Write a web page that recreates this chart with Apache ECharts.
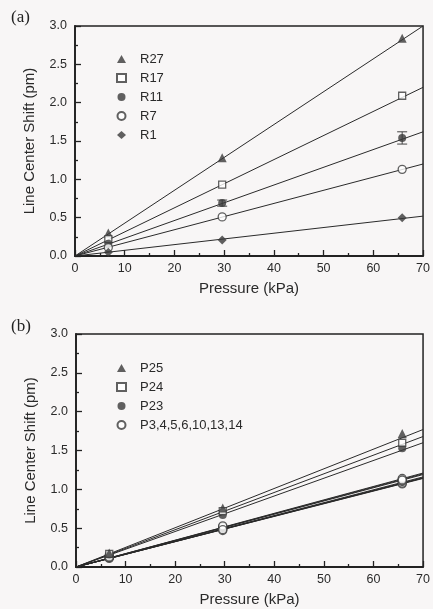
<!DOCTYPE html>
<html>
<head>
<meta charset="utf-8">
<script src="https://cdn.jsdelivr.net/npm/echarts@6/dist/echarts.min.js"></script>
<style>
  html, body { margin: 0; padding: 0; background: #f8f6f6; }
  #main { width: 433px; height: 609px; }
</style>
</head>
<body>
<div id="main"></div>
<script>
// pressures where shifts were measured (kPa)
var pressure = [6.7, 29.6, 65.8];
var fitX = [0, 70];

// panel (a)
var namesA = ['R27', 'R17', 'R11', 'R7', 'R1'];
var r27 = [0.30, 1.28, 2.84];
var r17 = [0.22, 0.93, 2.09];
var r11 = [0.16, 0.69, 1.54];
var r7 = [0.11, 0.51, 1.13];
var r1 = [0.05, 0.21, 0.50];
var r11Err = [0, 0.04, 0.08];
var fitEndA = [3.0, 2.20, 1.62, 1.20, 0.52]; // fit line value at 70 kPa

// panel (b)
var namesB = ['P25', 'P24', 'P23', 'P3,4,5,6,10,13,14'];
var p25 = [0.18, 0.76, 1.72];
var p24 = [0.17, 0.72, 1.60];
var p23 = [0.16, 0.67, 1.53];
var p3group = [
  [0.11, 0.47, 1.07],
  [0.12, 0.49, 1.08],
  [0.13, 0.50, 1.10],
  [0.14, 0.51, 1.11],
  [0.12, 0.52, 1.13],
  [0.15, 0.53, 1.14],
  [0.13, 0.48, 1.12]
];
var fitEndB = [1.77, 1.68, 1.60];
var fitEndP3 = [1.21, 1.20, 1.19, 1.16, 1.15, 1.145, 1.14];

var yTicks = ['0.0', '0.5', '1.0', '1.5', '2.0', '2.5', '3.0'];

var ink = '#3a3a3a';
var sym = {
  tri: { symbol: 'triangle', size: 9, style: { color: ink } },
  sq: { symbol: 'rect', size: 7, style: { color: '#fff', borderColor: ink, borderWidth: 1.3 } },
  dot: { symbol: 'circle', size: 8, style: { color: ink } },
  ring: { symbol: 'circle', size: 8, style: { color: '#fff', borderColor: ink, borderWidth: 1.3 } },
  dia: { symbol: 'diamond', size: 9, style: { color: ink } }
};

function pts(vals) {
  return pressure.map(function (p, i) { return [p, vals[i]]; });
}
function fit(end) {
  return [[fitX[0], 0], [fitX[1], end]];
}
function lineSeries(idx, end) {
  return {
    type: 'line', xAxisIndex: idx, yAxisIndex: idx, data: fit(end),
    symbol: 'none', silent: true, z: 1,
    lineStyle: { color: '#2a2a2a', width: 1 }
  };
}
function scatter(idx, name, vals, s) {
  return {
    type: 'scatter', name: name, xAxisIndex: idx, yAxisIndex: idx,
    data: pts(vals), symbol: s.symbol, symbolSize: s.size, itemStyle: s.style, z: 3
  };
}

var font = 'Liberation Sans';

function xAxisCfg(idx) {
  return {
    type: 'value', gridIndex: idx, min: 0, max: 70, interval: 10,
    name: 'Pressure (kPa)', nameLocation: 'middle', nameGap: 25,
    nameTextStyle: { fontFamily: font, fontSize: 15, color: '#2a2a2a' },
    axisLine: { lineStyle: { color: '#222', width: 1.8 } },
    axisTick: { inside: true, length: 6, lineStyle: { color: '#222', width: 1.3 } },
    minorTick: { show: true, splitNumber: 2, length: 3, lineStyle: { color: '#222', width: 1.3 } },
    splitLine: { show: false },
    axisLabel: { margin: 6, fontFamily: font, fontSize: 12.5, color: '#2a2a2a' }
  };
}
function yAxisCfg(idx) {
  return {
    type: 'value', gridIndex: idx, min: 0, max: 3, interval: 0.5,
    name: 'Line Center Shift (pm)', nameLocation: 'middle', nameGap: 38,
    nameTextStyle: { fontFamily: font, fontSize: 15, color: '#2a2a2a' },
    axisLine: { show: true, lineStyle: { color: '#222', width: 1.8 } },
    axisTick: { inside: true, length: 6, lineStyle: { color: '#222', width: 1.3 } },
    minorTick: { show: true, splitNumber: 2, length: 3, lineStyle: { color: '#222', width: 1.3 } },
    splitLine: { show: false },
    axisLabel: {
      margin: 8, fontFamily: font, fontSize: 12.5, color: '#2a2a2a',
      formatter: function (v) { return yTicks[Math.round(v * 2)]; }
    }
  };
}

function legendCfg(names, top) {
  return {
    orient: 'vertical', left: 111, top: top, data: names,
    itemWidth: 9, itemHeight: 8, itemGap: 5,
    textStyle: { fontFamily: font, fontSize: 13, color: '#2a2a2a', lineHeight: 14, padding: [0, 0, 0, 9] },
    selectedMode: false
  };
}

var errorBars = {
  type: 'custom', xAxisIndex: 0, yAxisIndex: 0, silent: true, z: 2,
  data: pressure.map(function (p, i) { return [p, r11[i], r11Err[i]]; }),
  renderItem: function (params, api) {
    var x = api.value(0), y = api.value(1), e = api.value(2);
    if (!e) return;
    var hi = api.coord([x, y + e]), lo = api.coord([x, y - e]);
    var w = 5;
    var st = { stroke: '#444', lineWidth: 1 };
    return {
      type: 'group', children: [
        { type: 'line', shape: { x1: hi[0], y1: hi[1], x2: lo[0], y2: lo[1] }, style: st },
        { type: 'line', shape: { x1: hi[0] - w, y1: hi[1], x2: hi[0] + w, y2: hi[1] }, style: st },
        { type: 'line', shape: { x1: lo[0] - w, y1: lo[1], x2: lo[0] + w, y2: lo[1] }, style: st }
      ]
    };
  }
};

var series = [];
fitEndA.forEach(function (e) { series.push(lineSeries(0, e)); });
series.push(errorBars);
series.push(scatter(0, namesA[0], r27, sym.tri));
series.push(scatter(0, namesA[1], r17, sym.sq));
series.push(scatter(0, namesA[2], r11, sym.dot));
series.push(scatter(0, namesA[3], r7, sym.ring));
series.push(scatter(0, namesA[4], r1, sym.dia));

fitEndB.forEach(function (e) { series.push(lineSeries(1, e)); });
fitEndP3.forEach(function (e) { series.push(lineSeries(1, e)); });
p3group.forEach(function (vals) { series.push(scatter(1, namesB[3], vals, sym.ring)); });
series.push(scatter(1, namesB[2], p23, sym.dot));
series.push(scatter(1, namesB[1], p24, sym.sq));
series.push(scatter(1, namesB[0], p25, sym.tri));

var chart = echarts.init(document.getElementById('main'), null, { renderer: 'canvas' });
chart.setOption({
  backgroundColor: '#f8f6f6',
  animation: false,
  title: [
    { text: '(a)', left: 6, top: 4, textStyle: { fontFamily: 'Liberation Serif', fontSize: 17, fontWeight: 'normal', color: '#222' } },
    { text: '(b)', left: 6, top: 313, textStyle: { fontFamily: 'Liberation Serif', fontSize: 17, fontWeight: 'normal', color: '#222' } }
  ],
  grid: [
    { left: 75, top: 26, width: 349, height: 230, show: true, borderColor: '#222', borderWidth: 1.5, backgroundColor: 'transparent' },
    { left: 76, top: 334, width: 351, height: 233, show: true, borderColor: '#222', borderWidth: 1.5, backgroundColor: 'transparent' }
  ],
  legend: [legendCfg(namesA, 47), legendCfg(namesB, 356)],
  xAxis: [xAxisCfg(0), xAxisCfg(1)],
  yAxis: [yAxisCfg(0), yAxisCfg(1)],
  series: series
});
</script>
</body>
</html>
